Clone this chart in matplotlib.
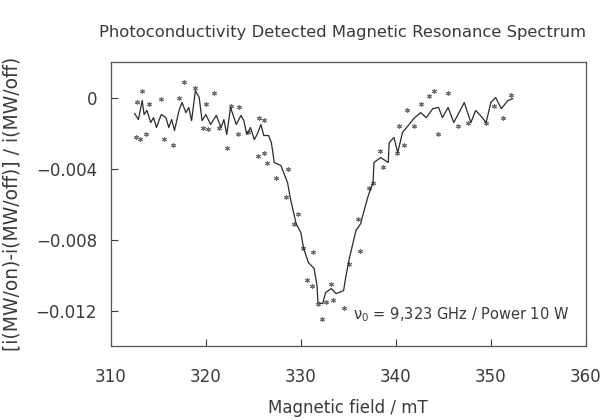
import matplotlib
matplotlib.use("Agg")
import matplotlib.pyplot as plt

plt.rcParams["font.family"] = "DejaVu Sans"

# smoothed trace (line)
line_field = [312.5, 312.9, 313.3, 313.5, 313.8, 314.2, 314.5, 314.8, 315.3, 315.8,
              316.1, 316.4, 316.7, 317.2, 317.5, 317.9, 318.2, 318.5, 318.9, 319.3,
              319.6, 320.0, 320.5, 321.1, 321.6, 321.9, 322.2, 322.6, 323.2, 323.7,
              324.0, 324.3, 324.7, 325.1, 325.4, 325.8, 326.1, 326.6, 326.9,
              327.2, 327.9, 328.6, 328.9, 329.5, 330.0,
              330.3, 330.8, 331.4, 331.7, 331.8, 332.3, 332.6, 333.2, 333.7, 334.0,
              334.5, 334.7, 335.1, 335.5, 335.8, 336.3, 336.6, 337.1, 337.6, 337.7,
              338.4, 339.2, 339.3, 339.8, 340.2, 340.7, 341.3, 341.9, 342.6, 343.2,
              343.9, 344.5, 344.9, 345.5, 346.1, 347.2, 347.9, 348.4, 348.9, 349.5,
              350.0, 350.5, 351.1, 351.8, 352.3]
line_signal = [-0.00090, -0.00124, -0.00017, -0.00096, -0.00073, -0.00141, -0.00113, -0.00169, -0.00096, -0.00113,
               -0.00169, -0.00124, -0.00186, -0.00068, -0.00028, -0.00085, -0.00056, -0.00130, 0.00039, 0.00000,
               -0.00130, -0.00096, -0.00152, -0.00101, -0.00169, -0.00124, -0.00208, -0.00056, -0.00152, -0.00101,
               -0.00130, -0.00208, -0.00169, -0.00237, -0.00208, -0.00152, -0.00214, -0.00214, -0.00254,
               -0.00366, -0.00383, -0.00479, -0.00569, -0.00710, -0.00761,
               -0.00851, -0.00930, -0.00963, -0.01059, -0.01155, -0.01161, -0.01099, -0.01076, -0.01104, -0.01099,
               -0.01087, -0.01020, -0.00907, -0.00817, -0.00749, -0.00710, -0.00648, -0.00552, -0.00479, -0.00366,
               -0.00338, -0.00366, -0.00254, -0.00225, -0.00310, -0.00197, -0.00158, -0.00118, -0.00085, -0.00113,
               -0.00062, -0.00056, -0.00113, -0.00056, -0.00141, -0.00028, -0.00141, -0.00073, -0.00101, -0.00141,
               -0.00028, 0.00000, -0.00062, -0.00017, -0.00006]

# raw measured points
pt_field = [313.3, 312.8, 312.6, 313.1, 313.7, 314.0, 315.3, 315.6, 316.5, 317.2,
            317.7, 318.9, 319.7, 320.2, 320.9, 320.0, 321.4, 322.2, 322.6, 323.5,
            323.4, 324.4, 325.6, 326.1, 325.5, 326.1, 326.4, 327.4, 328.6, 328.4,
            329.7, 329.3, 330.2, 331.3, 330.7, 331.2, 331.8, 332.2, 332.6, 333.4,
            333.2, 334.5, 335.1, 336.2, 336.0, 337.2, 337.6, 338.3, 338.6, 340.1,
            340.3, 341.2, 340.9, 341.9, 342.6, 343.5, 344.0, 345.5, 344.4, 346.5,
            347.6, 349.5, 350.3, 351.3, 352.1]
pt_signal = [0.00039, -0.00028, -0.00225, -0.00231, -0.00203, -0.00039, -0.00006, -0.00231, -0.00265, 0.00000,
             0.00090, 0.00051, -0.00169, -0.00175, 0.00028, -0.00034, -0.00169, -0.00282, -0.00045, -0.00051,
             -0.00203, -0.00197, -0.00118, -0.00124, -0.00327, -0.00310, -0.00366, -0.00451, -0.00400, -0.00563,
             -0.00654, -0.00710, -0.00845, -0.00868, -0.01025, -0.01059, -0.01161, -0.01245, -0.01149, -0.01138,
             -0.01048, -0.01183, -0.00935, -0.00862, -0.00682, -0.00507, -0.00479, -0.00299, -0.00394, -0.00310,
             -0.00158, -0.00073, -0.00265, -0.00158, -0.00039, 0.00006, 0.00039, 0.00023, -0.00203, -0.00158,
             -0.00146, -0.00146, -0.00045, -0.00113, 0.00017]

x_ticks = [310, 320, 330, 340, 350, 360]
y_ticks = [0, -0.004, -0.008, -0.012]
y_ticklabels = ["0", "\u22120.004", "\u22120.008", "\u22120.012"]

ink = "#3a3a3a"

fig = plt.figure(figsize=(6.09, 4.19), dpi=100)
ax = fig.add_axes([0.182, 0.174, 0.780, 0.678])

ax.plot(pt_field, pt_signal, linestyle="none", marker=(6, 2, 0), markersize=3.5,
        markeredgewidth=0.8, color="#707070", zorder=2)
ax.plot(line_field, line_signal, color="#2a2a2a", linewidth=0.9, zorder=3)

ax.set_xlim(310, 360)
ax.set_ylim(-0.014, 0.002)
ax.set_xticks(x_ticks)
ax.set_yticks(y_ticks)
ax.set_yticklabels(y_ticklabels)
ax.tick_params(axis="both", direction="in", length=5, width=0.8, color=ink,
               labelsize=12, labelcolor=ink)
ax.tick_params(axis="x", pad=16)
ax.tick_params(axis="y", pad=10)
for s in ax.spines.values():
    s.set_color("#555555")
    s.set_linewidth(0.9)

ax.set_xlabel("Magnetic field / mT", fontsize=12, color=ink, labelpad=9)
ax.set_ylabel("[i(MW/on)-i(MW/off)] / i(MW/off)", fontsize=13.5, color=ink, labelpad=10)
fig.text(0.562, 0.922, "Photoconductivity Detected Magnetic Resonance Spectrum",
         ha="center", va="center", fontsize=11.8, color=ink)
ax.text(0.51, 0.11, r"$\mathregular{\nu_0}$ = 9,323 GHz / Power 10 W", transform=ax.transAxes,
        ha="left", va="center", fontsize=10.5, color=ink)

fig.savefig("out.png", dpi=100, facecolor="white")
